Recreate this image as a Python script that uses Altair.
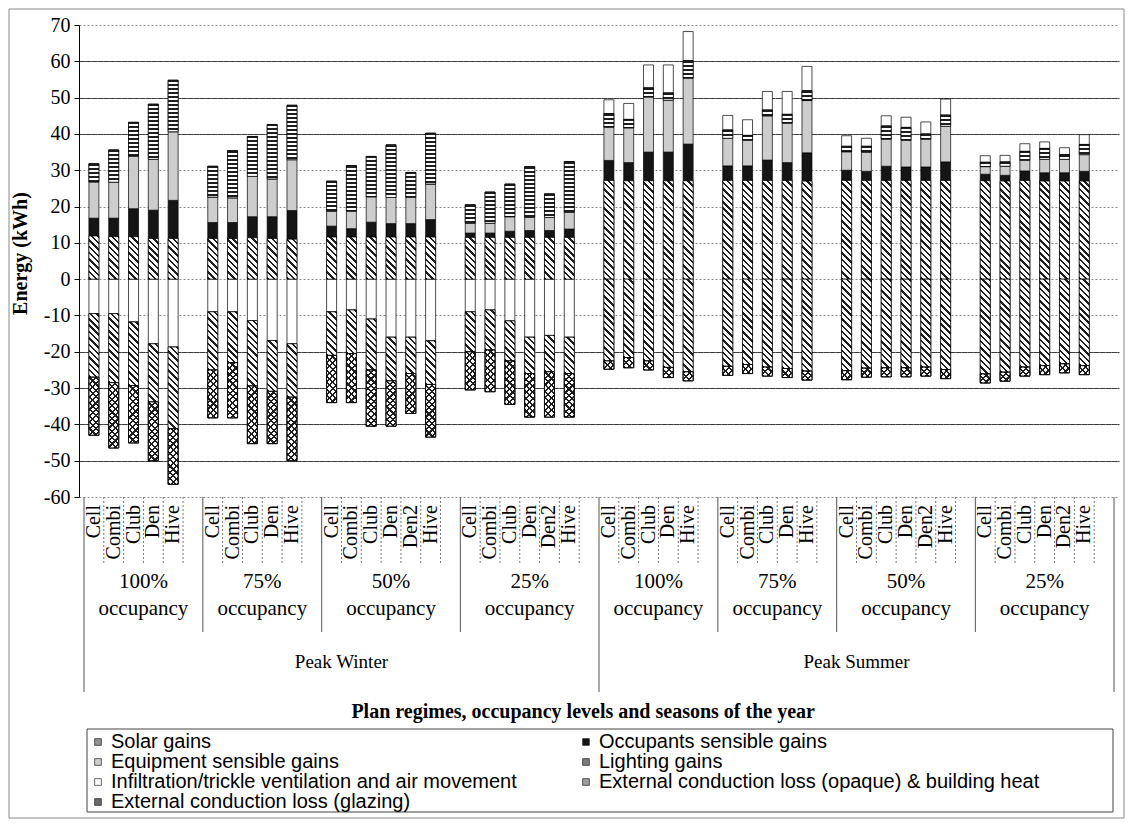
import altair as alt
import pandas as pd

# ---------------- data ----------------
series = [
    "Solar gains",
    "Occupants sensible gains",
    "Equipment sensible gains",
    "Lighting gains",
    "Infiltration/trickle ventilation and air movement",
    "External conduction loss (opaque) & building heat",
    "External conduction loss (glazing)",
]
series_fill = ["#929292", "#151515", "#cdcdcd", "#7c7c7c", "#ffffff", "#9c9c9c", "#6a6a6a"]

group_season = ["Peak Winter"] * 4 + ["Peak Summer"] * 4
group_occupancy = ["100%", "75%", "50%", "25%"] * 2
five = ["Cell", "Combi", "Club", "Den", "Hive"]
six = ["Cell", "Combi", "Club", "Den", "Den2", "Hive"]
group_plans = [five, five, six, six, five, five, six, six]

solar = [
    11.9, 11.7, 11.7, 11.2, 11.2,
    11.2, 11.2, 11.4, 11.2, 11.0,
    11.6, 11.6, 11.6, 11.6, 11.6, 11.6,
    11.5, 11.5, 11.5, 11.5, 11.5, 11.5,
    27.2, 27.1, 27.1, 27.1, 27.1,
    27.2, 27.2, 27.2, 27.2, 27.0,
    27.2, 27.2, 27.2, 27.2, 27.2, 27.2,
    27.1, 27.0, 27.2, 27.0, 27.0, 27.0,
]
occupants = [
    4.9, 5.1, 7.7, 7.8, 10.5,
    4.4, 4.4, 5.8, 6.0, 7.9,
    3.0, 2.3, 4.1, 3.7, 3.7, 4.8,
    1.2, 1.2, 1.7, 1.9, 1.9, 2.3,
    5.5, 5.0, 7.9, 7.9, 10.1,
    4.0, 4.0, 5.6, 4.9, 7.8,
    2.8, 2.5, 3.9, 3.7, 3.7, 5.1,
    1.8, 1.6, 2.6, 2.3, 2.3, 2.7,
]
equipment = [
    10.0, 9.9, 14.5, 14.0, 18.9,
    7.0, 6.8, 11.1, 10.4, 14.0,
    4.1, 4.8, 7.0, 7.2, 7.2, 9.8,
    2.7, 2.7, 4.0, 3.6, 3.6, 4.6,
    9.2, 9.6, 15.2, 14.3, 18.1,
    7.6, 7.0, 12.2, 10.9, 14.4,
    5.1, 5.3, 7.5, 7.3, 7.7, 9.8,
    2.1, 2.5, 2.9, 3.7, 3.7, 4.6,
]
lighting = [
    5.0, 8.9, 9.3, 15.2, 14.2,
    8.5, 13.0, 11.0, 15.0, 15.0,
    8.3, 12.6, 11.1, 14.5, 6.9, 14.0,
    5.1, 8.6, 9.0, 14.0, 6.5, 14.0,
    3.7, 2.3, 2.5, 2.0, 4.9,
    2.3, 1.4, 1.6, 2.4, 2.7,
    1.5, 1.6, 3.6, 3.6, 1.4, 3.1,
    1.2, 1.2, 2.5, 3.0, 1.3, 2.8,
]
infiltration = [
    -9.5, -9.5, -11.8, -17.8, -18.7,
    -9.0, -9.0, -11.4, -16.9, -17.8,
    -9.0, -8.5, -11.0, -16.0, -16.0, -17.0,
    -9.0, -8.5, -11.5, -16.0, -15.5, -16.0,
    3.8, 4.4, 6.3, 7.7, 8.0,
    4.0, 4.3, 5.1, 6.3, 6.7,
    2.9, 2.2, 2.8, 2.8, 3.3, 4.4,
    1.8, 1.8, 2.1, 1.8, 1.9, 2.7,
]
opaque = [
    -17.5, -19.0, -17.5, -16.0, -22.5,
    -16.0, -14.0, -18.0, -14.0, -14.7,
    -12.0, -12.0, -14.0, -12.0, -10.0, -12.0,
    -11.0, -11.0, -11.0, -10.0, -10.0, -10.0,
    -22.5, -21.6, -22.5, -24.3, -25.5,
    -24.0, -23.5, -24.2, -24.6, -25.3,
    -25.2, -24.5, -24.4, -24.4, -24.2, -24.9,
    -26.1, -25.6, -24.2, -23.8, -23.3, -23.8,
]
glazing = [
    -16.0, -18.0, -15.8, -16.2, -15.3,
    -13.2, -15.2, -15.9, -14.4, -17.5,
    -13.0, -13.5, -15.5, -12.5, -11.0, -14.5,
    -10.5, -11.5, -12.0, -12.0, -12.5, -12.0,
    -2.3, -2.8, -2.5, -2.8, -2.5,
    -2.5, -2.5, -2.5, -2.5, -2.5,
    -2.5, -2.5, -2.5, -2.5, -2.5, -2.5,
    -2.5, -2.5, -2.5, -2.5, -2.5, -2.5,
]
values_by_series = [solar, occupants, equipment, lighting, infiltration, opaque, glazing]

# ---------------- tables built from the lists ----------------
rows, plan_rows, tick_rows, group_rows, occ_rows = [], [], [], [], []
offset = 0
k = 0
offsets = []
for g, plans in enumerate(group_plans):
    offsets.append(offset)
    n_slots = len(plans) + 1  # one empty slot closes every group
    for i, plan in enumerate(plans):
        xc = offset + i + 0.5
        plan_rows.append({"x": xc, "plan": plan})
        tick_rows.append({"x": offset + i + 1})
        for s, name in enumerate(series):
            v = values_by_series[s][k]
            if v != 0:
                rows.append({"xc": xc, "series": name, "sidx": s, "value": v,
                             "plan": plan, "occupancy": group_occupancy[g],
                             "season": group_season[g]})
        k += 1
    occ_rows.append({"x": offset + n_slots / 2, "occ": group_occupancy[g]})
    offset += n_slots
total_slots = offset

season_names = list(dict.fromkeys(group_season))
season_bounds = [0]
for sname in season_names:
    last = max(i for i, s in enumerate(group_season) if s == sname)
    season_bounds.append(offsets[last] + len(group_plans[last]) + 1)
season_rows = [{"x": (season_bounds[i] + season_bounds[i + 1]) / 2, "season": s}
               for i, s in enumerate(season_names)]
for o in offsets:
    if o not in season_bounds:
        group_rows.append({"x": o})

df = pd.DataFrame(rows)
plans_df = pd.DataFrame(plan_rows)
ticks_df = pd.DataFrame(tick_rows)
groups_df = pd.DataFrame(group_rows)
bounds_df = pd.DataFrame({"x": season_bounds})
occ_df = pd.DataFrame(occ_rows)
season_df = pd.DataFrame(season_rows)

# legend is filled column by column: order entries so rows read like the reference
legend_order = [0, 2, 4, 6, 1, 3, 5]
legend_domain = [series[i] for i in legend_order]
legend_range = [series_fill[i] for i in legend_order]

# ---------------- chart ----------------
W, H = 1040, 472
Y_MIN, Y_MAX = -60, 70
BAR_W = 10
SERIF = "Liberation Serif"
SANS = "Liberation Sans"
xscale = alt.Scale(domain=[0, total_slots], nice=False, zero=False)
yscale = alt.Scale(domain=[Y_MIN, Y_MAX], nice=False)

solid_test = "indexof([60, 50, 40, -20, -30, -40, -50], datum.value) >= 0"

yaxis = alt.Axis(
    values=list(range(Y_MIN, Y_MAX + 1, 10)),
    labelExpr="'' + datum.value",
    title="Energy (kWh)",
    titleFont=SERIF, titleFontSize=20, titleFontWeight="bold",
    titleColor="black", titleAngle=270, titleAlign="center",
    titleBaseline="middle", titleX=-59, titleY=228,
    labelFont=SERIF, labelFontSize=20, labelColor="black",
    labelPadding=4, tickSize=5, tickColor="black",
    domainColor="black", domainWidth=1,
    grid=True,
    gridDash=alt.condition(solid_test, alt.value([6, 0]), alt.value([2, 2])),
    gridColor=alt.condition(solid_test, alt.value("#3c3c3c"), alt.value("#8a8a8a")),
    gridWidth=1,
)


def stacked():
    return alt.Chart(df).transform_stack(
        stack="value", groupby=["xc"], as_=["y0", "y1"],
        sort=[alt.SortField("sidx", order="ascending")],
    )


bars = stacked().mark_bar(size=BAR_W, stroke="black", strokeWidth=0.7).encode(
    x=alt.X("xc:Q", scale=xscale, axis=None),
    y=alt.Y("y0:Q", scale=yscale, axis=yaxis),
    y2="y1:Q",
    fill=alt.Fill("series:N", scale=alt.Scale(domain=legend_domain, range=legend_range),
                  legend=alt.Legend(
                      title=None, orient="none", legendX=9, legendY=707,
                      columns=2, columnPadding=59, rowPadding=0,
                      symbolType="square", symbolSize=45,
                      symbolStrokeColor="black", symbolStrokeWidth=0.6,
                      labelFont=SANS, labelFontSize=20, labelColor="black",
                      labelOffset=3, labelLimit=0,
                  )),
    order=alt.Order("sidx:Q"),
    tooltip=["season:N", "occupancy:N", "plan:N", "series:N", "value:Q"],
)


# ---- line textures (hatching) drawn as per-segment linear gradients ----
def stop_list(dark, light, frac, K=22):
    parts = []
    for j in range(K):
        a = f"min(1,{j}*datum.dt)"
        b = f"min(1,{j + frac}*datum.dt)"
        c = f"min(1,{j + 1}*datum.dt)"
        parts += [f"{{offset:{a},color:'{dark}'}}", f"{{offset:{b},color:'{dark}'}}",
                  f"{{offset:{b},color:'{light}'}}", f"{{offset:{c},color:'{light}'}}"]
    return "[" + ",".join(parts) + "]"


def texture(sidx, kind, period, frac, light="#ffffff", dark="#1e1e1e"):
    if kind == "h":      # horizontal lines
        geom = "x1:0,y1:0,x2:0,y2:1"
        dt = f"{period}/datum.h"
    elif kind == "back":  # lines running down to the right
        geom = "x1:0,y1:1,x2:1,y2:1-datum.r"
        dt = f"{period}*sqrt(2)/({BAR_W}*(1+datum.r*datum.r))"
    else:                 # lines running up to the right
        geom = "x1:0,y1:0,x2:1,y2:datum.r"
        dt = f"{period}*sqrt(2)/({BAR_W}*(1+datum.r*datum.r))"
    grad = "{gradient:'linear'," + geom + ",stops:" + stop_list(dark, light, frac) + "}"
    return stacked().transform_filter(f"datum.sidx == {sidx}").transform_calculate(
        h=f"abs(datum.y1 - datum.y0) * {H / (Y_MAX - Y_MIN)}",
    ).transform_calculate(
        r=f"datum.h / {BAR_W}",
    ).transform_calculate(
        dt=dt,
    ).transform_calculate(
        grad=grad,
    ).mark_bar(size=BAR_W, stroke="black", strokeWidth=0.7).encode(
        x=alt.X("xc:Q", scale=xscale, axis=None),
        y=alt.Y("y0:Q", scale=yscale, axis=yaxis),
        y2="y1:Q",
        fill=alt.Fill("grad:N", scale=None),
    )


texture_layers = [
    texture(0, "back", 4.5, 0.38),                       # solar gains
    texture(3, "h", 4.0, 0.5),                           # lighting gains
    texture(5, "back", 4.5, 0.38),                       # opaque conduction
    texture(6, "back", 4.5, 0.34),                       # glazing: cross hatch
    texture(6, "fwd", 4.5, 0.34, light="rgba(255,255,255,0)"),
]

plan_ticks = alt.Chart(ticks_df).mark_rule(color="#777", strokeDash=[2, 2], strokeWidth=1).encode(
    x=alt.X("x:Q", scale=xscale, axis=None), y=alt.value(H), y2=alt.value(H + 66))
group_lines = alt.Chart(groups_df).mark_rule(color="#555", strokeWidth=1).encode(
    x=alt.X("x:Q", scale=xscale, axis=None), y=alt.value(H), y2=alt.value(H + 135))
season_lines = alt.Chart(bounds_df).mark_rule(color="#555", strokeWidth=1).encode(
    x=alt.X("x:Q", scale=xscale, axis=None), y=alt.value(H), y2=alt.value(H + 195))

plan_text = alt.Chart(plans_df).mark_text(
    angle=270, align="right", baseline="middle", font=SERIF, fontSize=20, color="black"
).encode(x=alt.X("x:Q", scale=xscale, axis=None), y=alt.value(H + 8), text="plan:N")

occ_pct = alt.Chart(occ_df).mark_text(
    align="center", baseline="middle", font=SERIF, fontSize=21, color="black"
).encode(x=alt.X("x:Q", scale=xscale, axis=None), y=alt.value(H + 85), text="occ:N")
occ_word = alt.Chart(occ_df).transform_calculate(word="'occupancy'").mark_text(
    align="center", baseline="middle", font=SERIF, fontSize=21, color="black"
).encode(x=alt.X("x:Q", scale=xscale, axis=None), y=alt.value(H + 112), text="word:N")

season_text = alt.Chart(season_df).mark_text(
    align="center", baseline="middle", font=SERIF, fontSize=19, color="black"
).encode(x=alt.X("x:Q", scale=xscale, axis=None), y=alt.value(H + 165), text="season:N")

title_df = pd.DataFrame({"x": [total_slots / 2 - 0.8],
                         "t": ["Plan regimes, occupancy levels and seasons of the year"]})
x_title = alt.Chart(title_df).mark_text(
    align="center", baseline="middle", font=SERIF, fontSize=20, fontWeight="bold", color="black"
).encode(x=alt.X("x:Q", scale=xscale, axis=None), y=alt.value(H + 215), text="t:N")

one = pd.DataFrame({"k": [0]})
legend_box = alt.Chart(one).mark_rect(filled=False, stroke="#444", strokeWidth=1).encode(
    x=alt.value(8), x2=alt.value(1034), y=alt.value(704), y2=alt.value(787))
frame = alt.Chart(one).mark_rect(filled=False, stroke="#888", strokeWidth=1).encode(
    x=alt.value(-70), x2=alt.value(1045), y=alt.value(-16), y2=alt.value(793))

chart = alt.layer(
    bars, *texture_layers, plan_ticks, group_lines, season_lines, plan_text, occ_pct, occ_word,
    season_text, x_title, legend_box, frame,
).properties(
    width=W, height=H,
    padding={"left": 71, "top": 17, "right": 6, "bottom": 322},
    autosize=alt.AutoSizeParams(type="none"),
    background="white",
).configure_view(strokeWidth=0)

chart.save("out.html", embed_options={"renderer": "svg", "actions": False})
